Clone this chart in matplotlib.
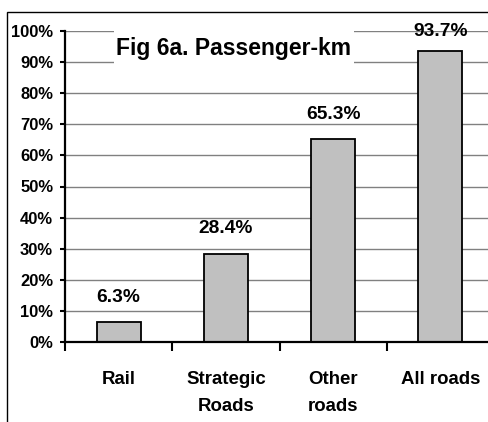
import matplotlib
matplotlib.use("Agg")
import matplotlib.pyplot as plt
from matplotlib.patches import Rectangle

categories = ["Rail", "Strategic\nRoads", "Other\nroads", "All roads"]
values = [0.063, 0.284, 0.653, 0.937]
labels = ["6.3%", "28.4%", "65.3%", "93.7%"]
yticks = [0.0, 0.1, 0.2, 0.3, 0.4, 0.5, 0.6, 0.7, 0.8, 0.9, 1.0]
ytick_labels = ["0%", "10%", "20%", "30%", "40%", "50%", "60%", "70%", "80%", "90%", "100%"]
title = "Fig 6a. Passenger-km"

plt.rcParams['font.family'] = ['Liberation Sans', 'DejaVu Sans']
plt.rcParams['font.weight'] = 'bold'

W, H = 489, 422
fig = plt.figure(figsize=(W / 100, H / 100), dpi=100)
fig.patch.set_facecolor('white')

# outer frame (cropped at right and bottom)
frame = Rectangle((7 / W, -0.1), 1.2, 1 - 12 / H + 0.1, transform=fig.transFigure,
                  fill=False, edgecolor='black', linewidth=1.0, clip_on=False)
fig.patches.append(frame)

left = 65 / W
bottom = 1 - 342 / H
top = 1 - 31 / H
width = 429 / W
ax = fig.add_axes([left, bottom, width, top - bottom])
ax.set_facecolor('none')

x = list(range(len(categories)))
ax.bar(x, values, width=0.41, color='#C0C0C0', edgecolor='black', linewidth=1.3, zorder=3)

ax.set_xlim(-0.5, len(categories) - 0.5)
ax.set_ylim(0, 1.0)
ax.set_yticks(yticks)
ax.set_yticklabels(ytick_labels, fontsize=11.9, fontweight='bold')
ax.yaxis.grid(True, color='#808080', linewidth=1.0, zorder=0)
ax.set_axisbelow(True)

ax.set_xticks(x)
ax.set_xticklabels(categories, fontsize=13.4, fontweight='bold', linespacing=1.75)
ax.set_xticks([i + 0.5 for i in range(-1, len(categories))], minor=True)
ax.tick_params(axis='x', which='major', length=0, pad=21)
ax.tick_params(axis='x', which='minor', length=6.5, width=1.5, direction='out', color='black')
ax.tick_params(axis='y', which='major', length=3.6, width=1.5, pad=5, color='black')

for s in ['top', 'right']:
    ax.spines[s].set_visible(False)
for s in ['left', 'bottom']:
    ax.spines[s].set_linewidth(1.6)
    ax.spines[s].set_color('black')
    ax.spines[s].set_zorder(5)

for xi, v, lab in zip(x, values, labels):
    ypos = min(v + 0.08, 1.0)
    ax.text(xi, ypos, lab, ha='center', va='center', fontsize=13.8, fontweight='bold',
            clip_on=False, zorder=4)

# title box with white background covering gridlines
tb = Rectangle((114 / W, 1 - 76 / H), (354 - 114) / W, (76 - 22) / H,
               transform=fig.transFigure, facecolor='white', edgecolor='none', zorder=2)
ax.add_artist(tb)
tb.set_clip_on(False)
fig.text(234 / W, 1 - 48 / H, title, ha='center', va='center', fontsize=16.5,
         fontweight='bold', zorder=6)

fig.savefig("out.png", dpi=100, facecolor='white')
